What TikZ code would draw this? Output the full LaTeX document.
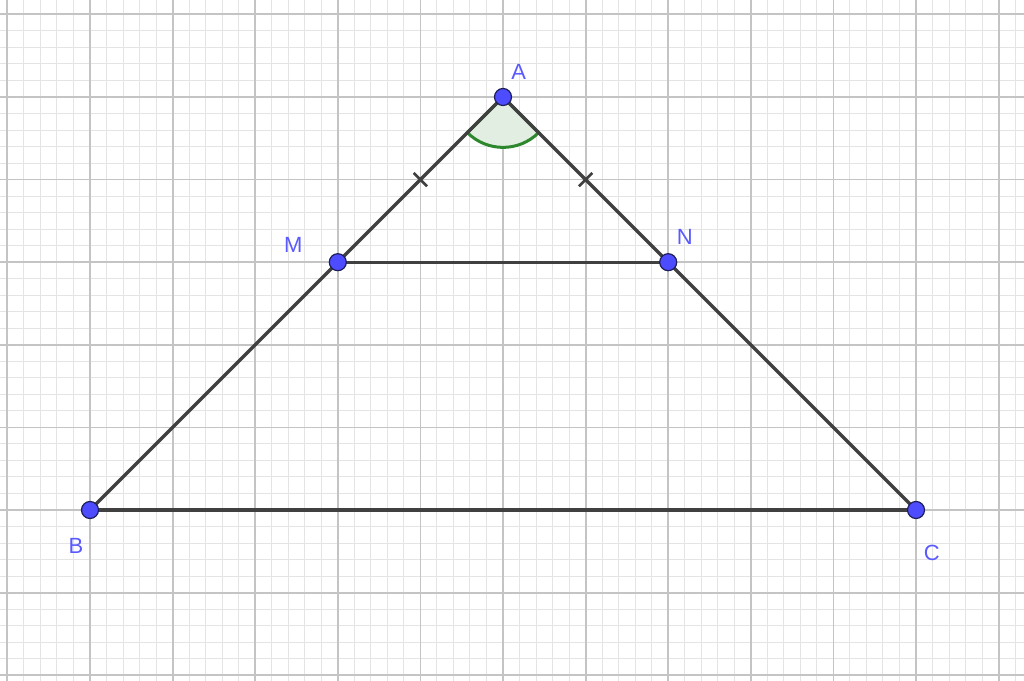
\documentclass[tikz,border=0pt]{standalone}
\usepackage{fontspec}
\setmainfont{Liberation Sans}
\usetikzlibrary{calc}
\definecolor{ptblue}{RGB}{77,77,255}
\definecolor{lblblue}{RGB}{90,90,255}
\definecolor{seg}{RGB}{64,64,64}
\definecolor{angfill}{RGB}{225,238,225}
\definecolor{angline}{RGB}{45,135,45}
\tikzset{
  minorgrid/.style={draw={rgb,255:red,228;green,228;blue,228}, line width=1pt},
  majorgrid/.style={draw={rgb,255:red,196;green,196;blue,196}, line width=1.8pt},
  segline/.style={draw=seg, line width=3.3pt},
  tickmark/.style={draw=seg, line width=2.6pt},
  ptdot/.style={circle, fill=ptblue, draw={rgb,255:red,30;green,30;blue,90}, line width=1.2pt, minimum size=17pt, inner sep=0pt},
  lbl/.style={text=lblblue, font=\fontsize{22pt}{26pt}\selectfont, inner sep=0pt},
}
\begin{document}
\begin{tikzpicture}[x=82.6pt,y=82.6pt]
\useasboundingbox (-90pt,-170pt) rectangle (934pt,510pt);
\fill[white] (-90pt,-170pt) rectangle (934pt,510pt);
\clip (-90pt,-170pt) rectangle (934pt,510pt);
% minor grid
\foreach \i in {-6,...,57} { \draw[minorgrid] (\i/5,-2.2) -- (\i/5,6.3); }
\foreach \j in {-11,...,31} { \draw[minorgrid] (-1.2,\j/5) -- (11.4,\j/5); }
% major grid
\foreach \i in {-1,...,11} { \draw[majorgrid] (\i,-2.2) -- (\i,6.3); }
\foreach \j in {-2,...,6} { \draw[majorgrid] (-1.2,\j) -- (11.4,\j); }
% points
\coordinate (A) at (5,5);
\coordinate (B) at (0,0);
\coordinate (C) at (10,0);
\coordinate (M) at (3,3);
\coordinate (N) at (7,3);
% angle at A
\filldraw[fill=angfill, draw=angline, line width=3pt] (A) -- ++(225:0.61) arc (225:315:0.61) -- cycle;
% segments
\draw[segline] (A) -- (B);
\draw[segline] (A) -- (C);
\draw[segline] (B) -- (C);
\draw[segline] (M) -- (N);
% equal ticks
\coordinate (t1) at (4,4);
\coordinate (t2) at (6,4);
\draw[tickmark] ($(t1)+(135:0.115)$) -- ($(t1)+(-45:0.115)$);
\draw[tickmark] ($(t2)+(45:0.115)$) -- ($(t2)+(225:0.115)$);
% dots
\node[ptdot] (pA) at (A) {};
\node[ptdot] (pB) at (B) {};
\node[ptdot] (pC) at (C) {};
\node[ptdot] (pM) at (M) {};
\node[ptdot] (pN) at (N) {};
% labels
\node[lbl] (lA) at (5.19,5.30) {A};
\node[lbl] (lM) at (2.46,3.21) {M};
\node[lbl] (lN) at (7.20,3.31) {N};
\node[lbl] (lB) at (-0.17,-0.44) {B};
\node[lbl] (lC) at (10.19,-0.52) {C};
\end{tikzpicture}
\end{document}
